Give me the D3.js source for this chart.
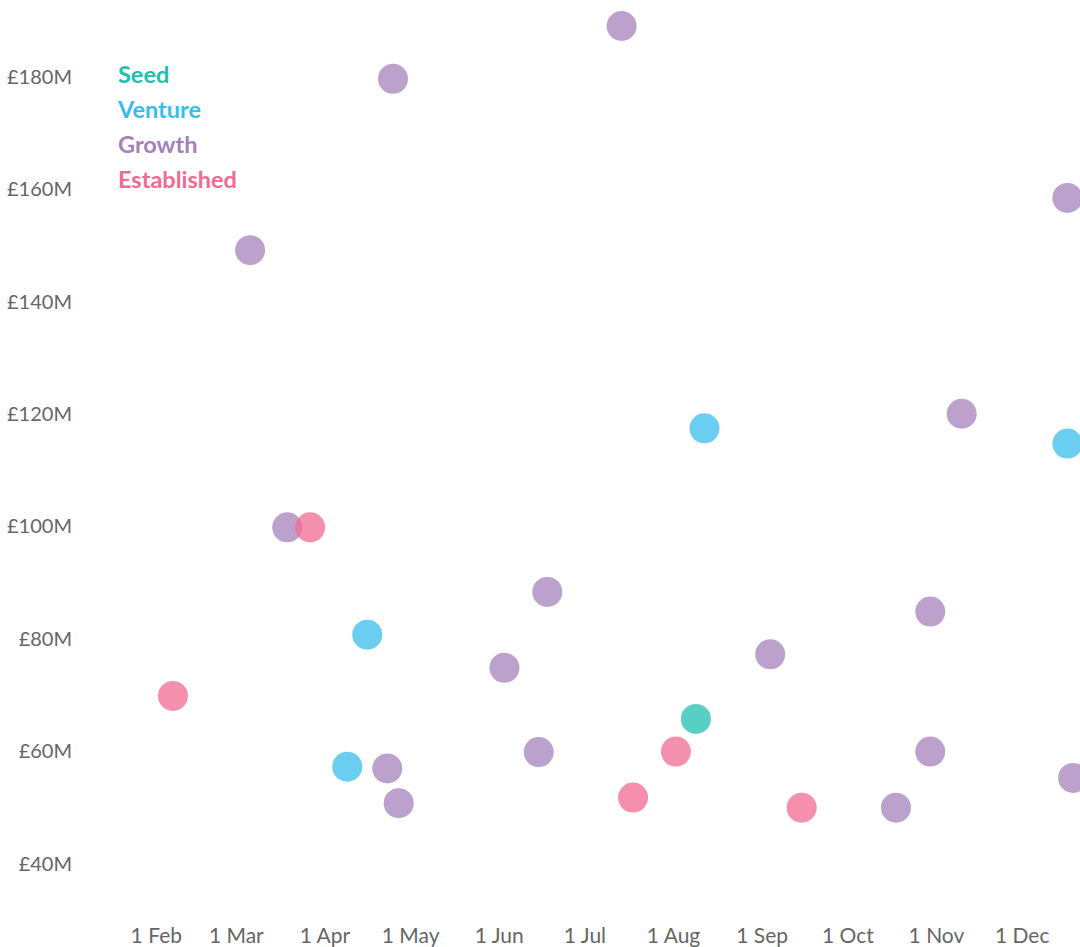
<!DOCTYPE html>
<html>
<head>
<meta charset="utf-8">
<script src="https://cdn.jsdelivr.net/npm/d3@7"></script>
<style>
  html, body { margin: 0; padding: 0; background: #fff; }
  svg { display: block; overflow: hidden; }
  .tick text { font-family: "Source Sans Pro", Lato, "Open Sans", sans-serif; fill: #666; }
  .legend text { font-family: "Source Sans Pro", Lato, "Open Sans", sans-serif; font-weight: 700; }
</style>
</head>
<body>
<svg id="chart" width="1080" height="947"></svg>
<script>
// ---- Data ----
const categories = ["Seed", "Venture", "Growth", "Established"];

const seedDates = ["2019-08-09"];
const seedValues = [65.6];

const ventureDates = ["2019-04-09", "2019-04-16", "2019-08-12", "2019-12-17"];
const ventureValues = [57.1, 80.6, 117.3, 114.6];

const growthDates = ["2019-03-06", "2019-03-19", "2019-04-23", "2019-04-25", "2019-04-27",
  "2019-06-03", "2019-06-15", "2019-06-18", "2019-07-14", "2019-09-04",
  "2019-10-18", "2019-10-30", "2019-10-30", "2019-11-10", "2019-12-17", "2019-12-19"];
const growthValues = [149.0, 99.7, 56.8, 179.5, 50.6,
  74.7, 59.7, 88.2, 188.9, 77.1,
  49.8, 84.7, 59.8, 119.9, 158.3, 55.1];

const establishedDates = ["2019-02-07", "2019-03-27", "2019-07-18", "2019-08-02", "2019-09-15"];
const establishedValues = [69.7, 99.7, 51.6, 59.8, 49.8];

const yTickValues = [40, 60, 80, 100, 120, 140, 160, 180];
const xTickStart = "2019-02-01";
const xTickEnd = "2019-12-01";

// ---- Styles ----
const colors = ["#20BFAE", "#3ABCEB", "#A481BA", "#F06B92"];
const dotOpacity = 0.75;
const radius = 15;

// ---- Build ----
const parse = d3.utcParse("%Y-%m-%d");
const seriesDates = [seedDates, ventureDates, growthDates, establishedDates];
const seriesValues = [seedValues, ventureValues, growthValues, establishedValues];

const points = [];
categories.forEach((c, i) => {
  seriesDates[i].forEach((d, j) => {
    points.push({ cat: c, idx: i, date: parse(d), value: seriesValues[i][j] });
  });
});
points.sort((a, b) => a.date - b.date);

const svg = d3.select("#chart");

const x = d3.scaleUtc()
  .domain([parse(xTickStart), parse(xTickEnd)])
  .range([155.8, 1021.7]);

const y = d3.scaleLinear()
  .domain([40, 180])
  .range([862.8, 76]);

const color = d3.scaleOrdinal().domain(categories).range(colors);

// Y axis
const yAxis = svg.append("g")
  .attr("transform", "translate(72,0)")
  .call(d3.axisLeft(y).tickValues(yTickValues).tickSize(0).tickPadding(0)
    .tickFormat(d => "£" + d + "M"));
yAxis.select(".domain").remove();
yAxis.selectAll(".tick text")
  .attr("font-size", 20)
  .attr("dy", "0.36em")
  .style("font-family", null);

// X axis
const xAxis = svg.append("g")
  .attr("transform", "translate(0,943)")
  .call(d3.axisBottom(x).ticks(d3.utcMonth.every(1)).tickSize(0).tickPadding(0)
    .tickFormat(d3.utcFormat("%-d %b")));
xAxis.select(".domain").remove();
xAxis.selectAll(".tick text")
  .attr("font-size", 21)
  .attr("y", 0)
  .attr("dy", 0)
  .style("font-family", null);

// Dots
svg.append("g")
  .selectAll("circle")
  .data(points)
  .join("circle")
  .attr("cx", d => x(d.date))
  .attr("cy", d => y(d.value))
  .attr("r", radius)
  .attr("fill", d => color(d.cat))
  .attr("fill-opacity", dotOpacity);

// Legend
const legend = svg.append("g").attr("class", "legend").attr("transform", "translate(118,75)");
legend.selectAll("text")
  .data(categories)
  .join("text")
  .attr("x", 0)
  .attr("y", (d, i) => i * 35)
  .attr("dy", "0.36em")
  .attr("font-size", 23.5)
  .attr("fill", d => color(d))
  .text(d => d);
</script>
</body>
</html>
